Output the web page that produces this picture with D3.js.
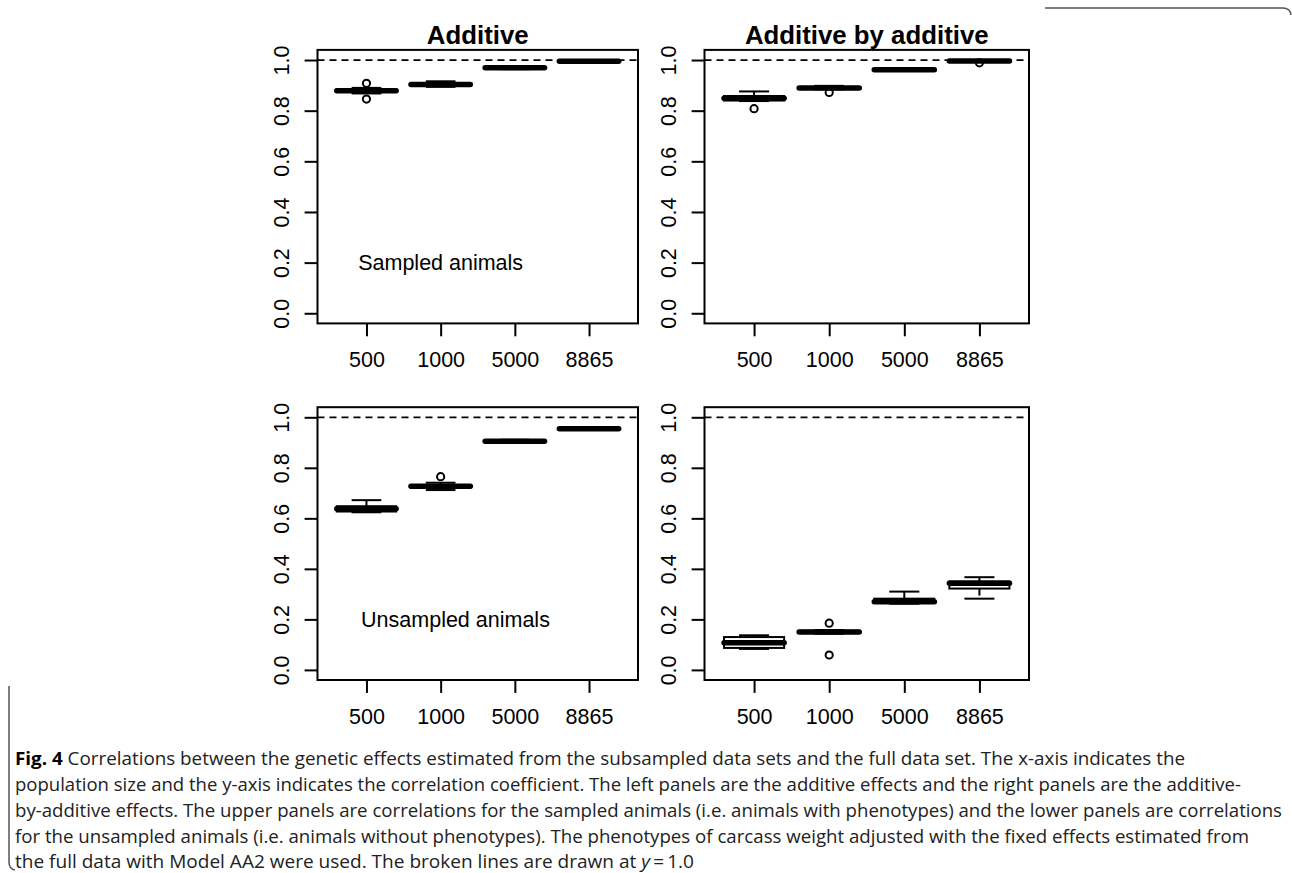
<!DOCTYPE html>
<html>
<head>
<meta charset="utf-8">
<script src="https://cdn.jsdelivr.net/npm/d3@7"></script>
<style>
  body { margin: 0; background: #fff; }
  svg { display: block; }
  .rfont { font-family: "Liberation Sans", Arial, sans-serif; }
  .cap { font-family: "Open Sans", "Noto Sans", sans-serif; font-size: 18px; fill: #222; }
</style>
</head>
<body>
<svg id="chart" width="1292" height="873"></svg>
<script>

// population sizes on the x axis
const sizes = ['500', '1000', '5000', '8865']
const colTitles = ['Additive', 'Additive by additive']
const rowLabels = ['Sampled animals', 'Unsampled animals']
const rowLabelX = [2.0, 2.2]
const rowLabelY = 0.2
const yTicks = [0, 0.2, 0.4, 0.6, 0.8, 1.0]
const refLine = 1.0

// [lower whisker, q1, median, q3, upper whisker] for each size
const addSampled = [
	[0.868, 0.874, 0.879, 0.884, 0.890],
	[0.894, 0.899, 0.903, 0.906, 0.916],
	[0.964, 0.967, 0.970, 0.972, 0.975],
	[0.991, 0.993, 0.995, 0.997, 0.998]
]
const addSampledOut = [[0.908, 0.846], [], [], []]

const aaSampled = [
	[0.838, 0.840, 0.849, 0.858, 0.876],
	[0.884, 0.887, 0.890, 0.893, 0.898],
	[0.957, 0.959, 0.962, 0.965, 0.967],
	[0.992, 0.994, 0.996, 0.998, 0.999]
]
const aaSampledOut = [[0.808], [0.872], [], [0.989]]

const addUnsampled = [
	[0.624, 0.627, 0.638, 0.648, 0.672],
	[0.712, 0.721, 0.727, 0.732, 0.741],
	[0.899, 0.902, 0.905, 0.908, 0.911],
	[0.952, 0.953, 0.955, 0.957, 0.958]
]
const addUnsampledOut = [[], [0.765], [], []]

const aaUnsampled = [
	[0.083, 0.087, 0.107, 0.130, 0.137],
	[0.143, 0.146, 0.150, 0.155, 0.158],
	[0.262, 0.265, 0.270, 0.282, 0.310],
	[0.282, 0.322, 0.343, 0.350, 0.367]
]
const aaUnsampledOut = [[], [0.185, 0.059], [], []]

const captionLines = [
	[['b', 'Fig. 4'], ['n', ' Correlations between the genetic effects estimated from the subsampled data sets and the full data set. The x-axis indicates the']],
	[['n', 'population size and the y-axis indicates the correlation coefficient. The left panels are the additive effects and the right panels are the additive-']],
	[['n', 'by-additive effects. The upper panels are correlations for the sampled animals (i.e. animals with phenotypes) and the lower panels are correlations']],
	[['n', 'for the unsampled animals (i.e. animals without phenotypes). The phenotypes of carcass weight adjusted with the fixed effects estimated from']],
	[['n', 'the full data with Model AA2 were used. The broken lines are drawn at '], ['i', 'y'], ['n', '\u2009=\u20091.0']]
]
const captionWidths = [1170, 1226, 1267, 1234, 679]
const captionY = [765, 791, 817, 843, 868]

// panel frames
const colX = [[317.5, 638], [704.5, 1029]]
const rowY = [[323.4, 49.9], [680, 407.2]]

const panels = [
	{ row: 0, col: 0, stats: addSampled, out: addSampledOut },
	{ row: 0, col: 1, stats: aaSampled, out: aaSampledOut },
	{ row: 1, col: 0, stats: addUnsampled, out: addUnsampledOut },
	{ row: 1, col: 1, stats: aaUnsampled, out: aaUnsampledOut }
]

const svg = d3.select('#chart')
const fs = 21.5

panels.forEach(p => {
	const x = d3.scaleLinear().domain([0.34, 4.66]).range(colX[p.col])
	const y = d3.scaleLinear().domain([-0.04, 1.04]).range(rowY[p.row])
	const g = svg.append('g').attr('class', 'rfont')
	const u = x(2) - x(1)

	// reference line
	g.append('line')
		.attr('x1', x.range()[0]).attr('x2', x.range()[1])
		.attr('y1', y(refLine)).attr('y2', y(refLine))
		.attr('stroke', '#000').attr('stroke-width', 1.8)
		.attr('stroke-dasharray', '7,5')

	const boxes = g.selectAll('g.bx')
		.data(p.stats.map((s, i) => ({ s, i, out: p.out[i] })))
		.enter().append('g').attr('class', 'bx')

	boxes.each(function(d) {
		const b = d3.select(this)
		const cx = x(d.i + 1)
		const [lo, q1, med, q3, hi] = d.s
		// whiskers
		b.append('line').attr('x1', cx).attr('x2', cx).attr('y1', y(q3)).attr('y2', y(hi))
			.attr('stroke', '#000').attr('stroke-width', 2).attr('stroke-dasharray', '7,5')
		b.append('line').attr('x1', cx).attr('x2', cx).attr('y1', y(q1)).attr('y2', y(lo))
			.attr('stroke', '#000').attr('stroke-width', 2).attr('stroke-dasharray', '7,5')
		// staples
		;[lo, hi].forEach(v => {
			b.append('line').attr('x1', cx - u * 0.2).attr('x2', cx + u * 0.2)
				.attr('y1', y(v)).attr('y2', y(v))
				.attr('stroke', '#000').attr('stroke-width', 2)
		})
		// box
		b.append('rect')
			.attr('x', cx - u * 0.4).attr('width', u * 0.8)
			.attr('y', y(q3)).attr('height', y(q1) - y(q3))
			.attr('fill', '#fff').attr('stroke', '#000').attr('stroke-width', 2)
		// median
		b.append('line').attr('x1', cx - u * 0.4).attr('x2', cx + u * 0.4)
			.attr('y1', y(med)).attr('y2', y(med))
			.attr('stroke', '#000').attr('stroke-width', 5.5).attr('stroke-linecap', 'round')
		// outliers
		b.selectAll('circle').data(d.out).enter().append('circle')
			.attr('cx', cx).attr('cy', v => y(v)).attr('r', 3.6)
			.attr('fill', 'none').attr('stroke', '#000').attr('stroke-width', 2)
	})

	// frame
	g.append('rect')
		.attr('x', x.range()[0]).attr('y', y.range()[1])
		.attr('width', x.range()[1] - x.range()[0])
		.attr('height', y.range()[0] - y.range()[1])
		.attr('fill', 'none').attr('stroke', '#000').attr('stroke-width', 2)

	// x axis
	const xAxis = d3.axisBottom(x).tickValues([1, 2, 3, 4])
		.tickFormat(v => sizes[v - 1]).tickSize(12.9).tickPadding(0).tickSizeOuter(0)
	const xg = g.append('g').attr('transform', `translate(0,${y.range()[0]})`).call(xAxis)
	xg.select('.domain').remove()
	xg.selectAll('line').attr('stroke', '#000').attr('stroke-width', 2)
	xg.selectAll('text').attr('font-size', fs).attr('font-family', null)
		.attr('fill', '#000').attr('dy', null).attr('y', 44)

	// y axis
	const yAxis = d3.axisLeft(y).tickValues(yTicks)
		.tickFormat(d3.format('.1f')).tickSize(12.9).tickSizeOuter(0)
	const yg = g.append('g').attr('transform', `translate(${x.range()[0]},0)`).call(yAxis)
	yg.select('.domain').remove()
	yg.selectAll('line').attr('stroke', '#000').attr('stroke-width', 2)
	yg.selectAll('text').attr('font-size', fs).attr('font-family', null)
		.attr('fill', '#000').attr('x', null).attr('dy', null)
		.attr('text-anchor', 'middle')
		.attr('transform', 'translate(-28.5,0) rotate(-90)')

	// column titles on top row
	if (p.row === 0) {
		g.append('text')
			.attr('x', (x.range()[0] + x.range()[1]) / 2).attr('y', 43.5)
			.attr('text-anchor', 'middle').attr('font-weight', 'bold')
			.attr('font-size', 25.8).text(colTitles[p.col])
	}
	// row label on left column
	if (p.col === 0) {
		g.append('text')
			.attr('x', x(rowLabelX[p.row])).attr('y', y(rowLabelY) + 7.5)
			.attr('text-anchor', 'middle').attr('font-size', fs)
			.text(rowLabels[p.row])
	}
})

// caption
captionLines.forEach((parts, i) => {
	const t = svg.append('text').attr('class', 'cap')
		.attr('x', 15).attr('y', captionY[i])
		.attr('textLength', captionWidths[i]).attr('lengthAdjust', 'spacingAndGlyphs')
	parts.forEach(([k, s]) => {
		const ts = t.append('tspan').text(s)
		if (k === 'b') ts.attr('font-weight', 'bold').attr('fill', '#000')
		if (k === 'i') ts.attr('font-style', 'italic')
	})
})

// figure border pieces
svg.append('path')
	.attr('d', 'M1045,8 H1283 Q1290,8 1291,15')
	.attr('fill', 'none').attr('stroke', '#555').attr('stroke-width', 1.5)
svg.append('path')
	.attr('d', 'M9,686 V862 Q9,869 15,870')
	.attr('fill', 'none').attr('stroke', '#555').attr('stroke-width', 1.5)

</script>
</body>
</html>
